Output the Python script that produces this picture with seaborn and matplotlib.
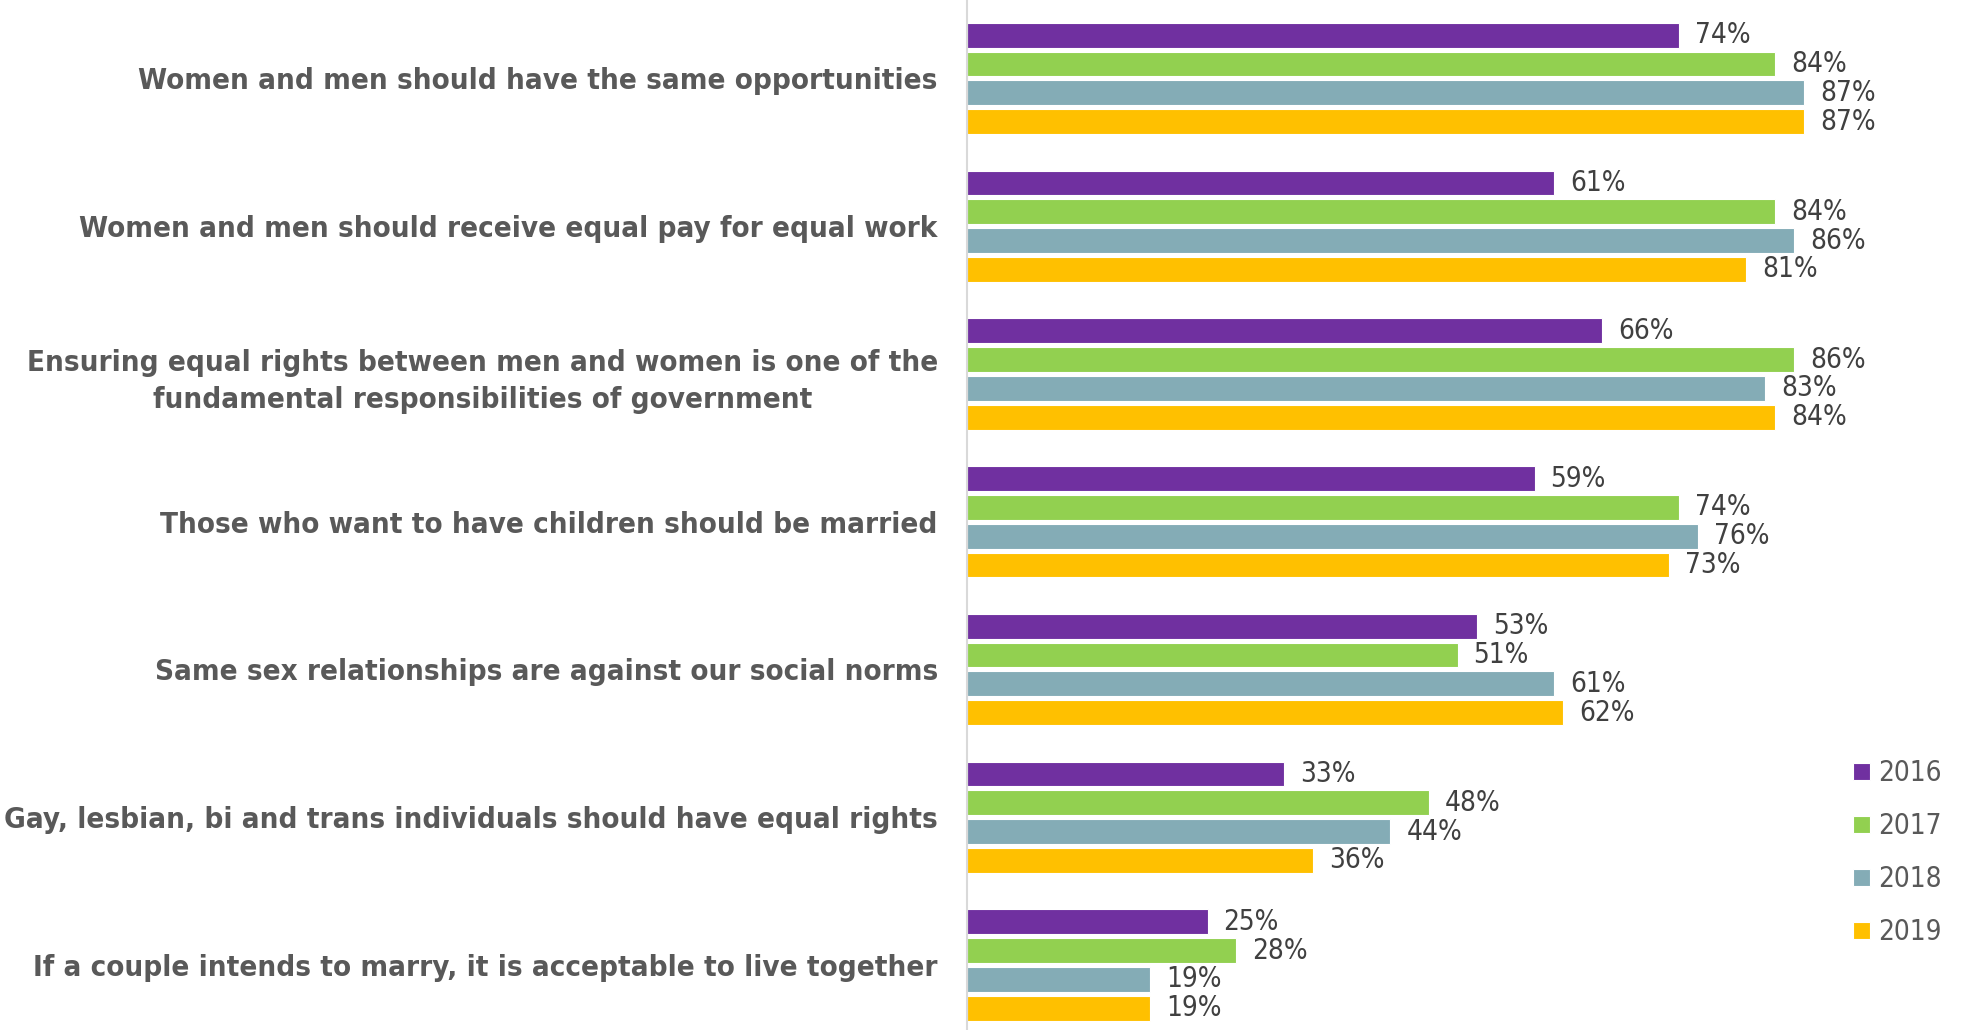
import matplotlib
matplotlib.use("Agg")
import matplotlib.pyplot as plt
import seaborn as sns
import pandas as pd

categories = [
    "Women and men should have the same opportunities",
    "Women and men should receive equal pay for equal work",
    "Ensuring equal rights between men and women is one of the\nfundamental responsibilities of government",
    "Those who want to have children should be married",
    "Same sex relationships are against our social norms",
    "Gay, lesbian, bi and trans individuals should have equal rights",
    "If a couple intends to marry, it is acceptable to live together",
]
years = ["2016", "2017", "2018", "2019"]
values_2016 = [74, 61, 66, 59, 53, 33, 25]
values_2017 = [84, 84, 86, 74, 51, 48, 28]
values_2018 = [87, 86, 83, 76, 61, 44, 19]
values_2019 = [87, 81, 84, 73, 62, 36, 19]
colors = ["#7030A0", "#92D050", "#84ACB6", "#FFC000"]

rows = []
for y, vals in zip(years, [values_2016, values_2017, values_2018, values_2019]):
    for c, v in zip(categories, vals):
        rows.append({"category": c, "year": y, "value": v})
df = pd.DataFrame(rows)

sns.set_theme(style="white")
plt.rcParams["font.family"] = ["DejaVu Sans"]

fig = plt.figure(figsize=(19.62, 10.30), dpi=100)
ax = fig.add_axes([967 / 1962, 0.0, 962 / 1962, 1.0])

sns.barplot(data=df, y="category", x="value", hue="year", order=categories,
            hue_order=years, palette=colors, orient="h", width=0.78, gap=0.14,
            edgecolor="white", linewidth=0.8, ax=ax, saturation=1)

ax.set_xlim(0, 100)
ax.set_ylim(6.44, -0.531)
ax.set_xlabel("")
ax.set_ylabel("")
ax.set_xticks([])
for s in ["top", "right", "bottom"]:
    ax.spines[s].set_visible(False)
ax.spines["left"].set_color("#d9d9d9")
ax.spines["left"].set_linewidth(1.5)

ax.tick_params(axis="y", length=0, pad=21)
for lab in ax.get_yticklabels():
    lab.set_fontsize(21.2)
    lab.set_fontweight("bold")
    lab.set_color("#595959")
    lab.set_fontstretch("condensed")
    lab.set_multialignment("center")
    lab.set_linespacing(1.4)

for cont in ax.containers:
    labels = ax.bar_label(cont, fmt="%d%%", padding=11.5, fontsize=20,
                          color="#404040")
    for t in labels:
        t.set_fontstretch("condensed")

sns.move_legend(ax, loc="center left", bbox_to_anchor=(1853 / 1962, 0.172),
                bbox_transform=fig.transFigure, frameon=False, title=None,
                borderaxespad=0, borderpad=0,
                handlelength=0.6, handleheight=0.6, handletextpad=0.3,
                labelspacing=0.9, fontsize=20)
leg = ax.get_legend()
for t in leg.get_texts():
    t.set_color("#595959")
    t.set_fontstretch("condensed")

fig.savefig("out.png", dpi=100)
